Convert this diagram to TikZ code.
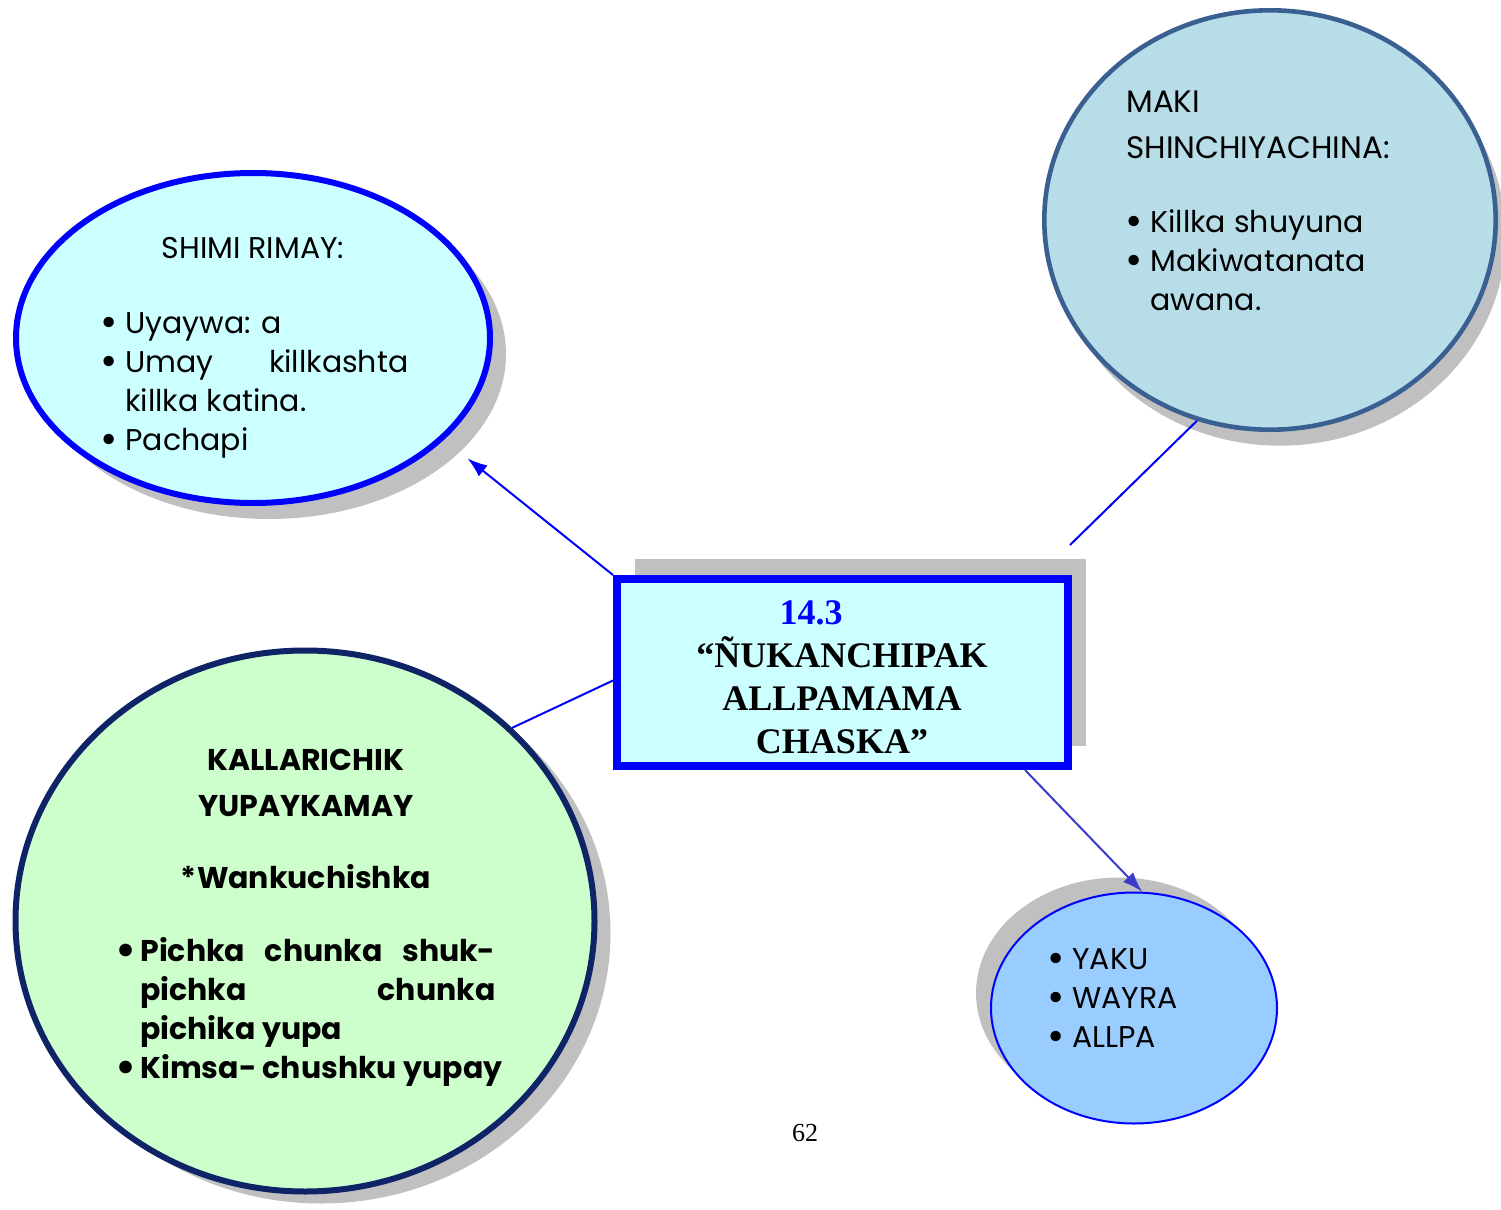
\documentclass[tikz,border=0pt]{standalone}
\usepackage{fontspec}
\setmainfont{Poppins}
\newfontfamily\timesfont{Liberation Serif}
\usetikzlibrary{positioning,arrows.meta,shapes.geometric,shadows}

\definecolor{shimifill}{HTML}{CCFFFF}
\definecolor{makifill}{HTML}{B7DDE8}
\definecolor{makiline}{HTML}{3A5F91}
\definecolor{kallafill}{HTML}{CCFFCC}
\definecolor{kallaline}{HTML}{0F2466}
\definecolor{yakufill}{HTML}{99CCFF}
\definecolor{shadowgray}{HTML}{C0C0C0}
\definecolor{arrowblue}{HTML}{3A3ACC}

\newlength{\bulw}
\setlength{\bulw}{11pt}
\newcommand{\bul}{\makebox[\bulw][l]{\hspace{-1.5pt}\raisebox{-1.5pt}{\scalebox{1.4}{\textbullet}}}}

\begin{document}
\begin{tikzpicture}[x=0.5pt,y=-0.5pt,
			>={Latex[length=10pt,width=7pt]},
			bubble/.style={ellipse,inner sep=0pt},
			txt/.style={align=left,inner sep=0pt,font=\fontsize{15}{19.5}\selectfont},
			link/.style={blue,line width=1pt}]
			
			\useasboundingbox (0,0) rectangle (1501,1210);
			
			\node[bubble,draw=blue,line width=3pt,fill=shimifill,minimum width=237pt,minimum height=165pt,
				drop shadow={shadow xshift=8pt,shadow yshift=-8pt,fill=shadowgray,opacity=1}] (shimi) at (253,338) {};
			
			\node[bubble,draw=makiline,line width=2.3pt,fill=makifill,minimum width=225.7pt,minimum height=209.7pt,
				drop shadow={shadow xshift=5pt,shadow yshift=-8pt,fill=shadowgray,opacity=1}] (maki) at (1270,220) {};
			
			\node[bubble,draw=kallaline,line width=3pt,fill=kallafill,minimum width=289.5pt,minimum height=270.5pt,
				drop shadow={shadow xshift=8pt,shadow yshift=-6pt,fill=shadowgray,opacity=1}] (kalla) at (305,921) {};
			
			\node[bubble,draw=blue,line width=1pt,fill=yakufill,minimum width=143pt,minimum height=115.5pt,
				drop shadow={shadow xshift=-7.5pt,shadow yshift=7.5pt,fill=shadowgray,opacity=1}] (yaku) at (1134,1008) {};
			
			\node[rectangle,draw=blue,line width=4pt,fill=shimifill,inner sep=0pt,minimum width=225.5pt,minimum height=93.5pt,
				drop shadow={shadow xshift=9pt,shadow yshift=10pt,fill=shadowgray,opacity=1}] (box) at (842.5,672.5) {};
			
			% texts (base = last line)
			\node[txt,anchor=base] (shimititle) at (253,258) {SHIMI RIMAY:};
			\node[txt,anchor=base west] (shimilist) at (103,450) {\bul Uyaywa: a\\
				\bul\makebox[141.5pt][s]{Umay killkashta}\\
				\hspace*{\bulw}killka katina.\\
				\bul Pachapi};
			
			\node[txt,anchor=base west,font=\fontsize{15.5}{23}\selectfont] (makititle) at (1126,158) {MAKI\\SHINCHIYACHINA:};
			\node[txt,anchor=base west] (makilist) at (1128,310) {\bul Killka shuyuna\\
				\bul Makiwatanata\\
				\hspace*{\bulw}awana.};
			
			\node[align=center,inner sep=0pt,anchor=base,font=\timesfont\bfseries\fontsize{18}{21.5}\selectfont] (boxtext) at (842,753)
				{\textcolor{blue}{14.3}\hspace*{31pt}\\“ÑUKANCHIPAK\\ALLPAMAMA\\CHASKA”};
			
			\node[txt,align=center,anchor=base,font=\bfseries\fontsize{15}{23}\selectfont] (kallatitle) at (306,816) {KALLARICHIK\\YUPAYKAMAY};
			\node[txt,align=center,anchor=base,font=\bfseries\fontsize{15}{19.5}\selectfont] (kallasub) at (306,888) {*Wankuchishka};
			\node[txt,anchor=base west,font=\bfseries\fontsize{15}{19.5}\selectfont] (kallalist) at (118,1078) {\bul\makebox[177.5pt][s]{Pichka chunka shuk-}\\
				\hspace*{\bulw}\makebox[177.5pt][s]{pichka chunka}\\
				\hspace*{\bulw}pichika yupa\\
				\bul Kimsa- chushku yupay};
			
			\node[txt,anchor=base west] (yakulist) at (1050,1047) {\bul YAKU\\ \bul WAYRA\\ \bul ALLPA};
			
			\node[inner sep=0pt,font=\timesfont\fontsize{13}{15}\selectfont] (pagenum) at (805,1133) {62};
			
			% connectors
			\coordinate (makifoot) at (1070,545);
			
			\draw[link,->,shorten >=15pt] (box.north west) -- (shimi.-28);
			
			\draw[link] (makifoot) -- (maki.250);
			
			\draw[link] ([yshift=-4pt]box.west) -- (kalla.43);
			
			\draw[link,draw=arrowblue,->] ([xshift=-23.5pt]box.south east) -- (yaku.86);
			
		\end{tikzpicture}
\end{document}
